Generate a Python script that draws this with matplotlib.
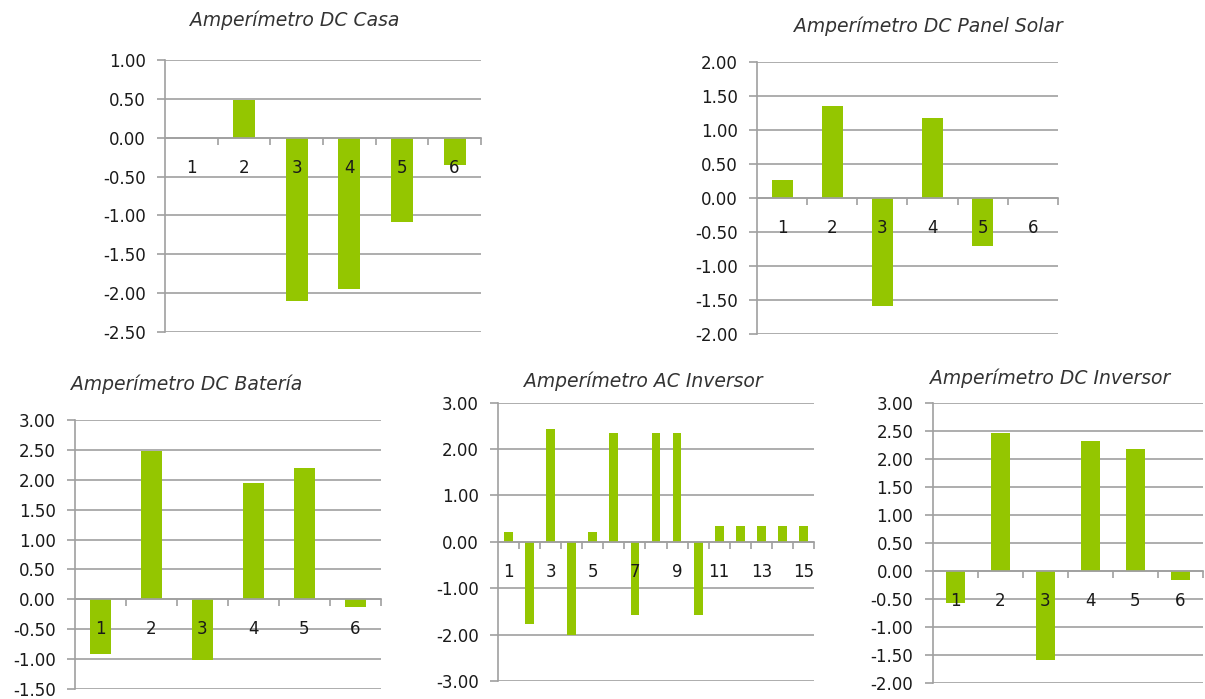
import matplotlib.pyplot as plt
from matplotlib.ticker import FixedLocator, FixedFormatter

# valores
casa = [0.00, 0.49, -2.10, -1.95, -1.09, -0.35]
panel_solar = [0.27, 1.36, -1.59, 1.18, -0.71, 0.00]
bateria = [-0.91, 2.48, -1.02, 1.94, 2.20, -0.12]
ac_inversor = [0.21, -1.77, 2.44, -2.00, 0.21, 2.34, -1.57, 2.34, 2.34, -1.57,
               0.35, 0.35, 0.35, 0.35, 0.35]
dc_inversor = [-0.56, 2.46, -1.58, 2.33, 2.18, -0.15]

VERDE = '#94C600'
GRIS = '#A0A0A0'

plt.rcParams['font.family'] = ['DejaVu Sans']


def grafico(fig, rect, valores, titulo, ymin, ymax, paso, titulo_xy, etiquetas_cada=1):
    ax = fig.add_axes(rect)
    n = len(valores)
    x = list(range(1, n + 1))
    ax.bar(x, valores, width=0.42, color=VERDE, zorder=2)
    ax.set_xlim(0.5, n + 0.5)
    ax.set_ylim(ymin, ymax)

    yt = []
    v = ymin
    while v <= ymax + 1e-9:
        yt.append(round(v, 2))
        v += paso
    ax.set_yticks(yt)
    ax.set_yticklabels([f"{t:.2f}" for t in yt])
    for t in yt:
        ax.axhline(t, color=GRIS, lw=1.2, zorder=0)

    # eje x en el cero
    ax.spines['bottom'].set_position(('data', 0))
    ax.spines['bottom'].set_color(GRIS)
    ax.spines['bottom'].set_linewidth(1.2)
    ax.spines['left'].set_color(GRIS)
    ax.spines['left'].set_linewidth(1.2)
    ax.spines['top'].set_visible(False)
    ax.spines['right'].set_visible(False)

    ax.xaxis.set_major_locator(FixedLocator(x))
    ax.xaxis.set_major_formatter(FixedFormatter(
        [str(i) if (i - 1) % etiquetas_cada == 0 else '' for i in x]))
    ax.xaxis.set_minor_locator(FixedLocator([i + 0.5 for i in range(1, n + 1)]))
    ax.tick_params(axis='x', which='major', length=0, pad=15, labelsize=12,
                   labelcolor='#1a1a1a')
    ax.tick_params(axis='x', which='minor', length=5, width=1.2, color=GRIS,
                   direction='out')
    ax.tick_params(axis='y', length=6, width=1.2, color=GRIS, labelsize=12,
                   labelcolor='#1a1a1a', pad=8)
    ax.xaxis.set_zorder(3)
    ax.set_facecolor('none')

    fig.text(titulo_xy[0] / 1205, 1 - titulo_xy[1] / 699, titulo,
             ha='center', va='center', fontsize=13.5, style='italic',
             color='#333333')
    return ax


fig = plt.figure(figsize=(12.05, 6.99), dpi=100)

grafico(fig, [0.1369, 0.525, 0.2622, 0.389], casa,
        'Amperímetro DC Casa', -2.5, 1.0, 0.5, (295, 20))
grafico(fig, [0.6282, 0.5222, 0.2498, 0.3891], panel_solar,
        'Amperímetro DC Panel Solar', -2.0, 2.0, 0.5, (928, 26))
grafico(fig, [0.0622, 0.0143, 0.2539, 0.3848], bateria,
        'Amperímetro DC Batería', -1.5, 3.0, 0.5, (187, 384))
grafico(fig, [0.4133, 0.0258, 0.2622, 0.3981], ac_inversor,
        'Amperímetro AC Inversor', -3.0, 3.0, 1.0, (643, 381), etiquetas_cada=2)
grafico(fig, [0.774, 0.0225, 0.2241, 0.4006], dc_inversor,
        'Amperímetro DC Inversor', -2.0, 3.0, 0.5, (1050, 378))

fig.savefig('out.png', dpi=100)
